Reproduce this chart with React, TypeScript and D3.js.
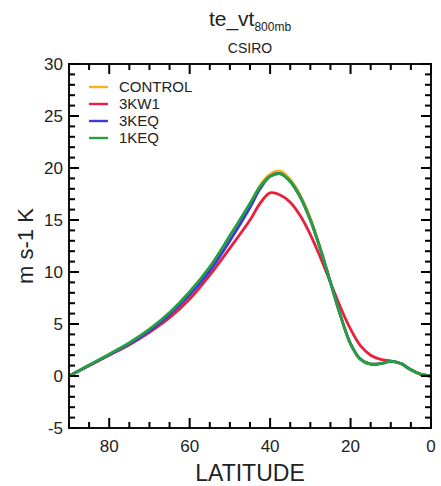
import React from "react";
import * as d3 from "d3";

const latitudes = [90, 85, 80, 75, 70, 65, 60, 55, 50, 45, 42.5, 40, 37.5, 35, 32.5, 30, 27.5, 25, 22.5, 20, 17.5, 15, 12.5, 10, 7.5, 5, 2.5, 0];

const control = [0, 1.0, 2.05, 3.1, 4.4, 6.0, 7.9, 10.3, 13.3, 16.5, 18.3, 19.4, 19.7, 18.9, 17.4, 15.2, 12.3, 9.0, 5.8, 3.1, 1.6, 1.15, 1.2, 1.4, 1.2, 0.6, 0.15, 0];
const kw1 = [0, 1.0, 2.0, 3.0, 4.2, 5.6, 7.4, 9.7, 12.3, 15.0, 16.6, 17.6, 17.4, 16.7, 15.4, 13.6, 11.4, 9.0, 6.6, 4.5, 2.9, 2.0, 1.6, 1.45, 1.2, 0.6, 0.15, 0];
const keq3 = [0, 1.0, 2.05, 3.1, 4.35, 5.9, 7.8, 10.1, 13.0, 16.2, 18.0, 19.2, 19.45, 18.7, 17.2, 15.0, 12.2, 9.0, 5.8, 3.1, 1.6, 1.15, 1.2, 1.4, 1.2, 0.6, 0.15, 0];
const keq1 = [0, 1.05, 2.1, 3.2, 4.5, 6.1, 8.1, 10.5, 13.5, 16.6, 18.2, 19.2, 19.45, 18.7, 17.2, 15.0, 12.2, 9.0, 5.8, 3.1, 1.6, 1.15, 1.2, 1.4, 1.2, 0.6, 0.15, 0];

const seriesNames = ["CONTROL", "3KW1", "3KEQ", "1KEQ"];
const seriesColors = ["#F7B21E", "#E8203C", "#3A3AE0", "#25A040"];
const seriesValues = [control, kw1, keq3, keq1];

const xTickLabels = [80, 60, 40, 20, 0];
const yTickLabels = [-5, 0, 5, 10, 15, 20, 25, 30];

const W = 441;
const H = 486;
const left = 69;
const right = 431;
const top = 64;
const bottom = 428;
const FONT = "'Liberation Sans', Arial, Helvetica, sans-serif";

export default function App() {
  const x = d3.scaleLinear().domain([90, 0]).range([left, right]);
  const y = d3.scaleLinear().domain([-5, 30]).range([bottom, top]);

  const line = d3
    .line<[number, number]>()
    .x((d) => x(d[0]))
    .y((d) => y(d[1]))
    .curve(d3.curveCatmullRom.alpha(0.5));

  const xMinor = d3.range(0, 91, 5);
  const yMinor = d3.range(-5, 31, 1);

  const majorLen = 10;
  const minorLen = 6;
  const tw = 2;

  return (
    <svg
      width={W}
      height={H}
      style={{ position: "absolute", left: 0, top: 0, background: "#fff" }}
      fontFamily={FONT}
    >
      <rect x={0} y={0} width={W} height={H} fill="#fff" />
      <defs>
        <clipPath id="plotclip">
          <rect x={left} y={top} width={right - left} height={bottom - top} />
        </clipPath>
      </defs>
      <text x={250} y={26} textAnchor="middle" fontSize={21} fill="#222">
        te_vt
        <tspan fontSize={12} dy={5}>
          800mb
        </tspan>
      </text>
      <text x={250} y={53} textAnchor="middle" fontSize={14} fill="#222">
        CSIRO
      </text>

      <g clipPath="url(#plotclip)">
        {seriesValues.map((vals, i) => (
          <path
            key={seriesNames[i]}
            d={line(latitudes.map((lat, j) => [lat, vals[j]] as [number, number])) || ""}
            fill="none"
            stroke={seriesColors[i]}
            strokeWidth={2.8}
            strokeLinejoin="round"
          />
        ))}
      </g>

      <rect
        x={left}
        y={top}
        width={right - left}
        height={bottom - top}
        fill="none"
        stroke="#111"
        strokeWidth={2}
      />
      {xMinor.map((v) => {
        const len = v % 20 === 0 ? majorLen : minorLen;
        const xp = x(v);
        return (
          <g key={"xt" + v} fill="#000">
            <rect x={xp - tw / 2} y={bottom - len} width={tw} height={len} />
            <rect x={xp - tw / 2} y={top} width={tw} height={len} />
          </g>
        );
      })}
      {yMinor.map((v) => {
        const len = v % 5 === 0 ? majorLen : minorLen;
        const yp = y(v);
        return (
          <g key={"yt" + v} fill="#000">
            <rect x={left} y={yp - tw / 2} width={len} height={tw} />
            <rect x={right - len} y={yp - tw / 2} width={len} height={tw} />
          </g>
        );
      })}

      {yTickLabels.map((v) => (
        <text
          key={"yl" + v}
          x={left - 6}
          y={y(v)}
          dy="0.36em"
          textAnchor="end"
          fontSize={17}
          fill="#222"
        >
          {v}
        </text>
      ))}
      {xTickLabels.map((v) => (
        <text
          key={"xl" + v}
          x={x(v)}
          y={452}
          textAnchor="middle"
          fontSize={17}
          fill="#222"
        >
          {v}
        </text>
      ))}

      <text x={250} y={481} textAnchor="middle" fontSize={23} fill="#222">
        LATITUDE
      </text>
      <text
        transform={`translate(33, 246) rotate(-90)`}
        textAnchor="middle"
        fontSize={22}
        fill="#222"
      >
        m s-1 K
      </text>

      {seriesNames.map((name, i) => {
        const ly = 87 + i * 17;
        return (
          <g key={"lg" + name}>
            <line x1={89} x2={108} y1={ly} y2={ly} stroke={seriesColors[i]} strokeWidth={2.4} />
            <text x={119} y={ly} dy="0.36em" fontSize={15} fill="#222">
              {name}
            </text>
          </g>
        );
      })}
    </svg>
  );
}
